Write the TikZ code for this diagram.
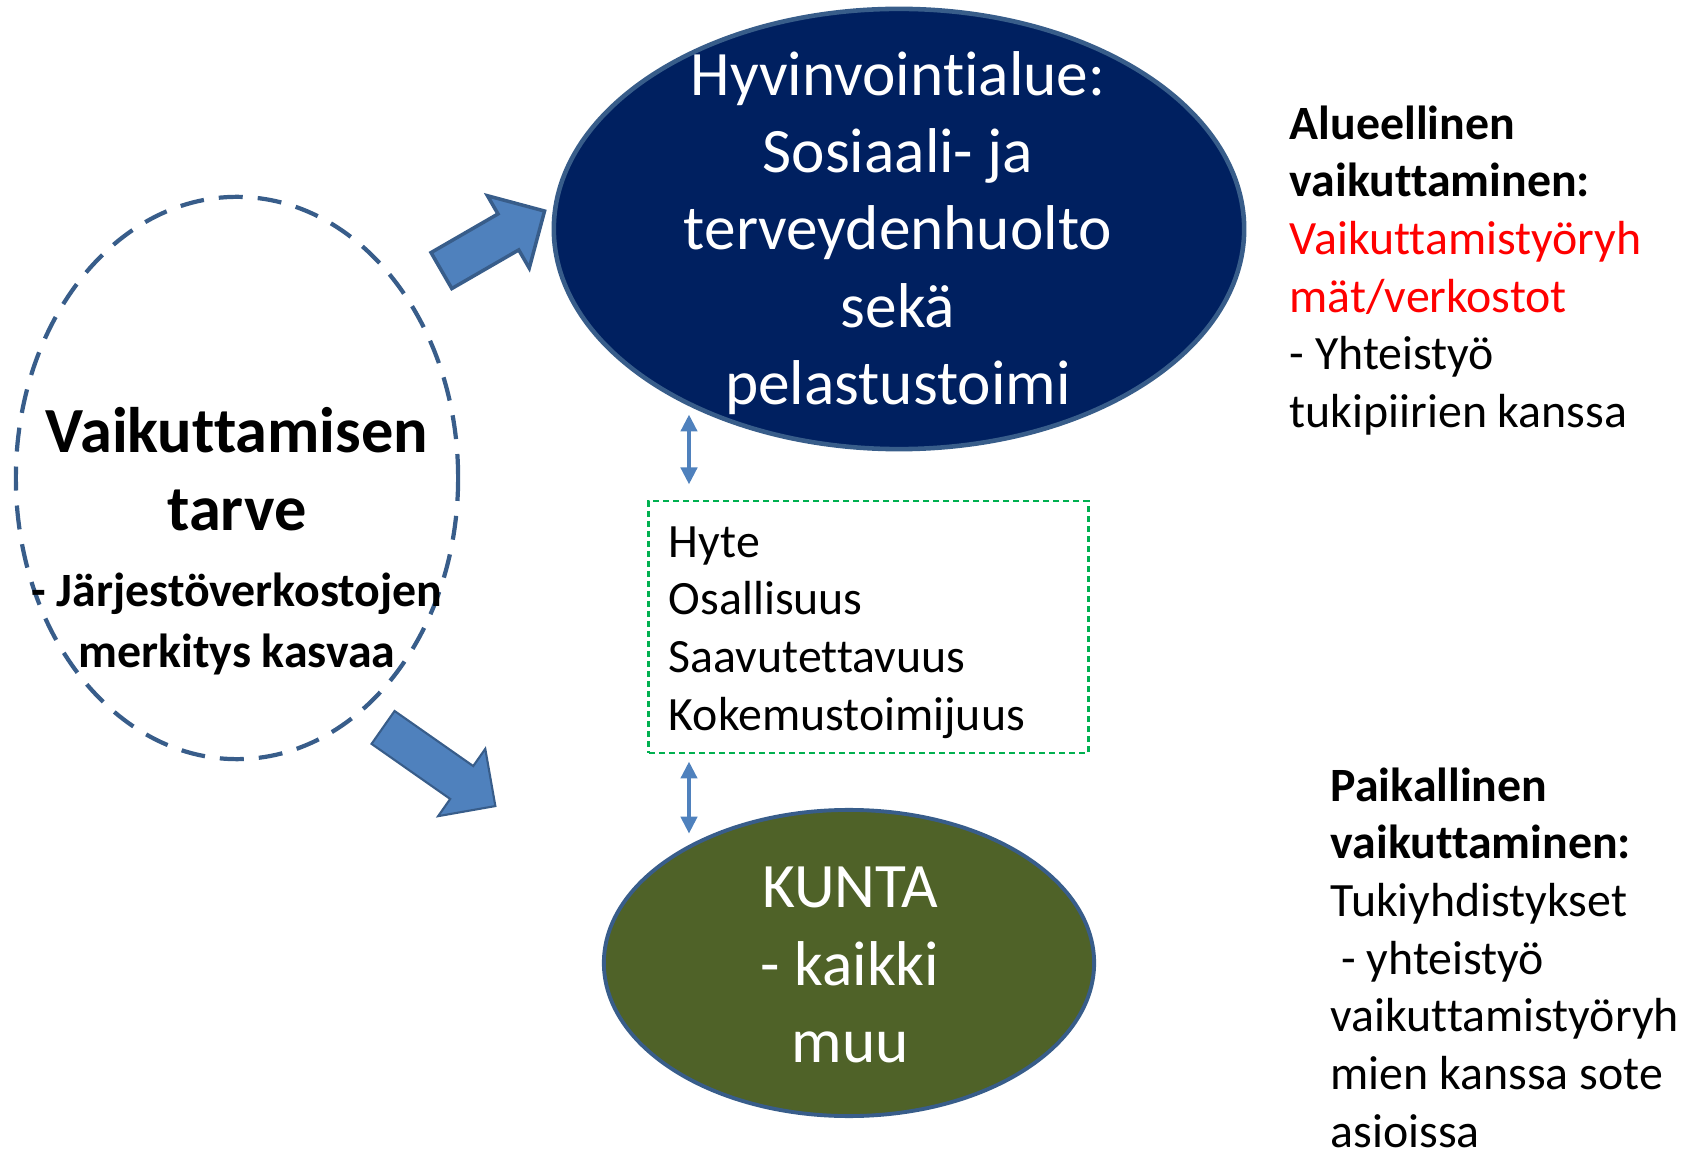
\documentclass[tikz,border=0pt]{standalone}
\usepackage{fontspec}
\setmainfont{Carlito}[Ligatures={NoCommon}]
\usetikzlibrary{shapes.geometric,shapes.arrows,arrows.meta}
\definecolor{navy}{HTML}{002060}
\definecolor{olive}{HTML}{4F6228}
\definecolor{rimblue}{HTML}{385D8A}
\definecolor{arrowblue}{HTML}{4F81BD}
\definecolor{boxgreen}{HTML}{00B050}
\tikzset{
  bigtext/.style={font=\fontsize{18}{22}\selectfont, align=center, text=white},
  sidetext/.style={font=\fontsize{13.6}{16.4}\selectfont, align=left, anchor=north west, inner sep=0pt},
  blockarrow/.style={single arrow, draw=rimblue, fill=arrowblue, line width=1pt,
    inner xsep=0pt, inner ysep=1.9mm, single arrow head extend=2.1mm, single arrow tip angle=90},
  dblarrow/.style={{Triangle[width=1.6mm,length=1.7mm]}-{Triangle[width=1.6mm,length=1.7mm]}, arrowblue, line width=1.2pt}
}
\begin{document}
\begin{tikzpicture}[x=0.01cm, y=-0.01cm]
  \useasboundingbox (0,0) rectangle (1687,1149);
  \node[ellipse, draw=rimblue, line width=1.2pt, dash pattern=on 2.4mm off 1.5mm,
    minimum width=4.42cm, minimum height=5.62cm, inner sep=0pt] (need) at (237,478) {};
  \node[font=\bfseries\fontsize{18.3}{22}\selectfont, align=center] (needtitle) at (237,469)
    {Vaikuttamisen\\tarve};
  \node[font=\bfseries\fontsize{13.6}{17.4}\selectfont, align=center] (needsub) at (237,624)
    {- Järjestöverkostojen\\merkitys kasvaa};

  \node[ellipse, draw=rimblue, line width=1.3pt, fill=navy, minimum width=6.9cm,
    minimum height=4.4cm, inner sep=0pt] (hyv) at (899,229) {};
  \node[bigtext] (hyvtext) at (898,233)
    {Hyvinvointialue:\\Sosiaali- ja\\terveydenhuolto\\sekä\\pelastustoimi};

  \node[ellipse, draw=rimblue, line width=1.1pt, fill=olive, minimum width=4.9cm,
    minimum height=3.06cm, inner sep=0pt] (kunta) at (849,963) {};
  \node[bigtext] (kuntatext) at (850,965) {KUNTA\\- kaikki\\muu};

  \node[draw=boxgreen, line width=0.8pt, dash pattern=on 0.6mm off 0.4mm,
    minimum width=4.39cm, minimum height=2.52cm] (focus) at (868.5,627) {};
  \node[text width=3.99cm, inner sep=0pt, align=left, font=\fontsize{13.6}{16.4}\selectfont]
    (focustext) at ([yshift=-0.55mm]focus.center)
    {Hyte\\Osallisuus\\Saavutettavuus\\Kokemustoimijuus};

  \node[blockarrow, minimum height=1.19cm, rotate=30] (toregion) at (484,246) {};
  \node[blockarrow, line width=0.6pt, minimum height=1.37cm, rotate=-35] (tomunic) at (431,761) {};

  \coordinate (link) at (689,0);
  \draw[dblarrow, shorten <=1.1mm, shorten >=1.5mm] (hyv.219.6 -| link) -- (focus.north -| link);
  \draw[dblarrow, shorten <=0.7mm, shorten >=1.2mm] (focus.south -| link) -- (kunta.144.1 -| link);

  \node[sidetext] (regional) at (1289,105)
    {\textbf{Alueellinen}\\\textbf{vaikuttaminen:}\\\textcolor{red}{Vaikuttamistyöryh}\\
     \textcolor{red}{mät/verkostot}\\- Yhteistyö\\tukipiirien kanssa};
  \node[sidetext] (local) at (1330,767)
    {\textbf{Paikallinen}\\\textbf{vaikuttaminen:}\\Tukiyhdistykset\\\ - yhteistyö\\
     vaikuttamistyöryh\\mien kanssa sote\\asioissa};
\end{tikzpicture}
\end{document}
